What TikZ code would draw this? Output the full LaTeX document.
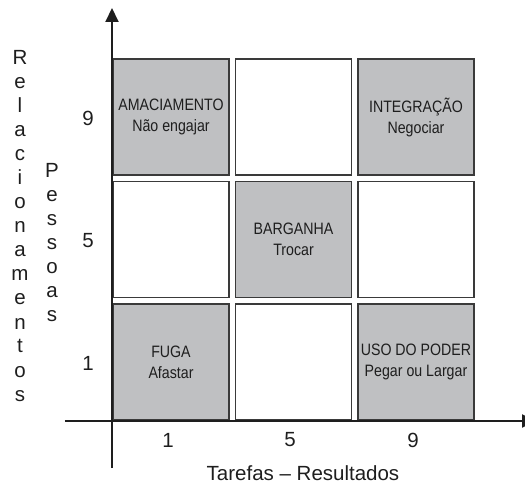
\documentclass[tikz,border=0pt]{standalone}
\usepackage{fontspec}
\setmainfont{Liberation Sans}
\newfontfamily\cellfont[FakeStretch=0.86]{Liberation Sans}
\usetikzlibrary{arrows.meta}

\definecolor{cellgray}{HTML}{BFC0C2}
\definecolor{cellline}{HTML}{3A3A3A}
\definecolor{inkgray}{HTML}{1E1E1E}

\tikzset{
  cell/.style={draw=cellline, line width=1.3pt, fill=white, minimum size=116pt,
    inner sep=0pt, align=center, text=inkgray,
    font=\cellfont\fontsize{16.5}{21}\selectfont},
  shaded/.style={cell, fill=cellgray},
  axislabel/.style={inner sep=0pt, text=inkgray, font=\fontsize{20.5}{24}\selectfont},
  axis/.style={line width=2pt, inkgray, -{Triangle[length=14pt, width=13pt]}}
}

\begin{document}
\begin{tikzpicture}[x=1pt, y=1pt]
  \useasboundingbox (-112,-64) rectangle (413,421);

  % cells
  \node[shaded] (amac) at (59, 304) {AMACIAMENTO\\Não engajar};
  \node[cell]   (topmid) at (181.5, 304) {};
  \node[shaded] (integ) at (304, 304) {INTEGRAÇÃO\\Negociar};

  \node[cell]   (midleft) at (59, 181.5) {};
  \node[shaded] (barg) at (181.5, 181.5) {BARGANHA\\Trocar};
  \node[cell]   (midright) at (304, 181.5) {};

  \node[shaded] (fuga) at (59, 59) {FUGA\\Afastar};
  \node[cell]   (botmid) at (181.5, 59) {};
  \node[shaded] (poder) at (304, 59) {USO DO PODER\\Pegar ou Largar};

  % axes
  \coordinate (ybot) at (0, -47);
  \coordinate (ytop) at (0, 413);
  \coordinate (xleft) at (-47, 0);
  \coordinate (xright) at (424, 0);
  \draw[axis] (ybot) -- (ytop);
  \draw[axis] (xleft) -- (xright);

  % scale marks
  \node[axislabel] (y9) at (-24, 303) {9};
  \node[axislabel] (y5) at (-24, 180) {5};
  \node[axislabel] (y1) at (-24, 58) {1};
  \node[axislabel] (x1) at (56, -19) {1};
  \node[axislabel] (x5) at (178, -19) {5};
  \node[axislabel] (x9) at (301, -19) {9};

  \node[axislabel] (xtitle) at (191, -52) {Tarefas – Resultados};

  \foreach \ch [count=\i from 0] in {R,e,l,a,c,i,o,n,a,m,e,n,t,o,s} {
    \node[axislabel, anchor=base] (rel\i) at (-92, 356 - 24*\i) {\ch};
  }
  \foreach \ch [count=\i from 0] in {P,e,s,s,o,a,s} {
    \node[axislabel, anchor=base] (pes\i) at (-60, 243.5 - 24*\i) {\ch};
  }

\end{tikzpicture}
\end{document}
